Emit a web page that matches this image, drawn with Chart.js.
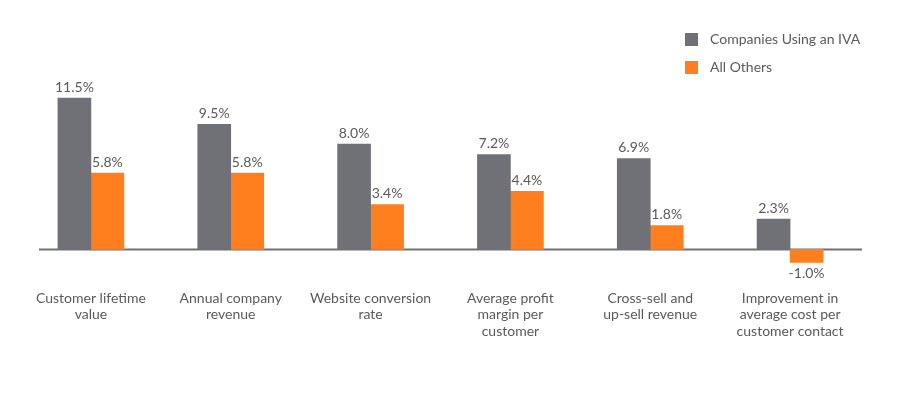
<!DOCTYPE html>
<html>
<head>
<meta charset="utf-8">
<script src="https://cdn.jsdelivr.net/npm/chart.js@4/dist/chart.umd.min.js"></script>
<style>
  html, body { margin: 0; padding: 0; background: #fff; }
  .wrap { position: relative; width: 900px; height: 410px; }
  #legend { position: absolute; left: 685px; top: 30px; font: 14px Lato, sans-serif; color: #5a5a5a; }
  #legend div { height: 28px; display: flex; align-items: flex-start; }
  #legend span.box { display: inline-block; width: 13px; height: 13px; margin-right: 12px; margin-top: 3px; }
</style>
</head>
<body>
<div class="wrap">
  <canvas id="chart" width="900" height="410"></canvas>
  <div id="legend"></div>
</div>
<script>
const categories = [
  ["Customer lifetime", "value"],
  ["Annual company", "revenue"],
  ["Website conversion", "rate"],
  ["Average profit", "margin per", "customer"],
  ["Cross-sell and", "up-sell revenue"],
  ["Improvement in", "average cost per", "customer contact"]
];
const ivaValues = [11.5, 9.5, 8.0, 7.2, 6.9, 2.3];
const otherValues = [5.8, 5.8, 3.4, 4.4, 1.8, -1.0];
const seriesNames = ["Companies Using an IVA", "All Others"];
const seriesColors = ["#707077", "#ff7f1e"];

const textColor = "#5a5a5a";

// value labels above (or below) each bar
const valueLabels = {
  id: "valueLabels",
  afterDatasetsDraw(chart) {
    const ctx = chart.ctx;
    ctx.save();
    ctx.font = "14px Lato, sans-serif";
    ctx.fillStyle = textColor;
    ctx.textAlign = "center";
    chart.data.datasets.forEach((ds, i) => {
      chart.getDatasetMeta(i).data.forEach((bar, j) => {
        const v = ds.data[j];
        if (v >= 0) {
          ctx.textBaseline = "bottom";
          ctx.fillText(v.toFixed(1) + "%", bar.x, bar.y - 4);
        } else {
          ctx.textBaseline = "top";
          ctx.fillText(v.toFixed(1) + "%", bar.x, bar.y + 4);
        }
      });
    });
    ctx.restore();
  }
};

// zero baseline
const zeroLine = {
  id: "zeroLine",
  beforeDatasetsDraw(chart) {
    const ctx = chart.ctx;
    const y = Math.round(chart.scales.y.getPixelForValue(0)) + 0.5;
    ctx.save();
    ctx.strokeStyle = "#707077";
    ctx.lineWidth = 2;
    ctx.beginPath();
    ctx.moveTo(39, y);
    ctx.lineTo(862, y);
    ctx.stroke();
    ctx.restore();
  }
};

const chart = new Chart(document.getElementById("chart"), {
  type: "bar",
  data: {
    labels: categories,
    datasets: [
      { label: seriesNames[0], data: ivaValues, backgroundColor: seriesColors[0] },
      { label: seriesNames[1], data: otherValues, backgroundColor: seriesColors[1] }
    ]
  },
  options: {
    responsive: false,
    animation: false,
    layout: { padding: { top: 52, left: 21, right: 40, bottom: 68 } },
    datasets: { bar: { barThickness: 33 } },
    plugins: {
      legend: { display: false },
      tooltip: { enabled: false }
    },
    scales: {
      x: {
        grid: { display: false },
        border: { display: false },
        ticks: {
          color: textColor,
          font: { family: "Lato, sans-serif", size: 14, lineHeight: 1.2 },
          padding: 2,
          maxRotation: 0,
          autoSkip: false
        }
      },
      y: {
        display: false,
        min: -2.3,
        max: 15
      }
    }
  },
  plugins: [valueLabels, zeroLine]
});

// legend built from the datasets
const legend = document.getElementById("legend");
chart.data.datasets.forEach(ds => {
  const row = document.createElement("div");
  const box = document.createElement("span");
  box.className = "box";
  box.style.background = ds.backgroundColor;
  row.appendChild(box);
  row.appendChild(document.createTextNode(ds.label));
  legend.appendChild(row);
});
</script>
</body>
</html>
